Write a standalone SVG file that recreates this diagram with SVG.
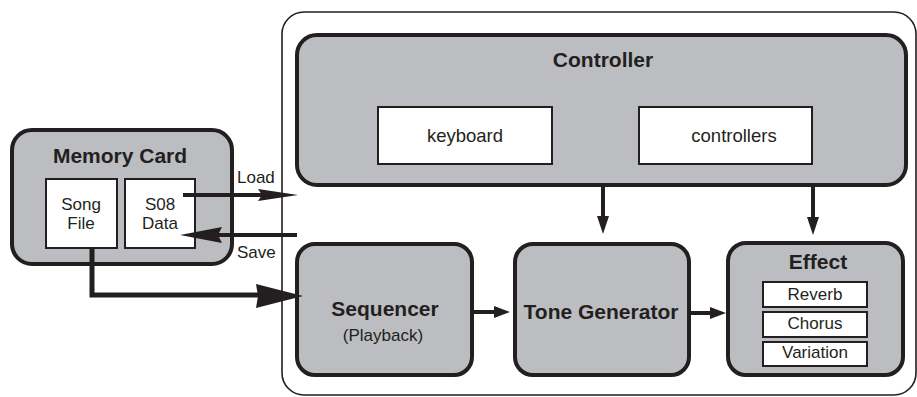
<svg xmlns="http://www.w3.org/2000/svg" width="917" height="397" viewBox="0 0 917 397">
  <style>
    text { font-family: "Liberation Sans", Arial, sans-serif; fill: #231f20; text-anchor: middle; }
    .title { font-size: 21px; font-weight: bold; }
    .label { font-size: 17px; }
    .big { font-size: 18.5px; }
    .block { fill: #bcbdc0; stroke: #231f20; stroke-width: 4; }
    .inner { fill: #ffffff; stroke: #231f20; stroke-width: 2; }
    .wire { fill: none; stroke: #231f20; stroke-width: 4; }
    .head { fill: #231f20; stroke: none; }
  </style>

  <!-- instrument enclosure -->
  <rect x="282" y="12" width="634" height="383" rx="22" fill="#ffffff" stroke="#231f20" stroke-width="1.6"/>

  <g id="memory-card">
    <rect class="block" x="12" y="130" width="220" height="134" rx="20"/>
    <text class="title" x="120" y="163">Memory Card</text>
    <rect class="inner" x="46" y="179" width="71" height="69"/>
    <text class="label" x="81" y="210">Song</text>
    <text class="label" x="81" y="229">File</text>
    <rect class="inner" x="125" y="179" width="70" height="69"/>
    <text class="label" x="160" y="210">S08</text>
    <text class="label" x="160" y="229">Data</text>
  </g>

  <g id="controller">
    <rect class="block" x="297" y="35" width="609" height="150" rx="20"/>
    <text class="title" x="603" y="67">Controller</text>
    <rect class="inner" x="378" y="107" width="174" height="57"/>
    <text class="big" x="465" y="142">keyboard</text>
    <rect class="inner" x="639" y="107" width="173" height="57"/>
    <text class="big" x="734" y="142">controllers</text>
  </g>

  <g id="sequencer">
    <rect class="block" x="297" y="244" width="175" height="131" rx="18"/>
    <text class="title" x="385" y="316">Sequencer</text>
    <text class="label" x="383" y="341">(Playback)</text>
  </g>

  <g id="tone-generator">
    <rect class="block" x="515" y="244" width="174" height="131" rx="18"/>
    <text class="title" x="601" y="319">Tone Generator</text>
  </g>

  <g id="effect">
    <rect class="block" x="728" y="243" width="175" height="132" rx="18"/>
    <text class="title" x="818" y="269">Effect</text>
    <rect class="inner" x="763" y="282" width="104" height="25"/>
    <text class="label" x="815" y="300">Reverb</text>
    <rect class="inner" x="763" y="312" width="104" height="25"/>
    <text class="label" x="815" y="329">Chorus</text>
    <rect class="inner" x="763" y="342" width="104" height="24"/>
    <text class="label" x="815" y="358">Variation</text>
  </g>

  <g id="connectors">
    <!-- Load -->
    <line class="wire" x1="183" y1="195" x2="262" y2="195"/>
    <polygon class="head" points="298,195 258,189 262,195 258,201"/>
    <text class="label" x="237" y="183" style="text-anchor:start">Load</text>
    <!-- Save -->
    <line class="wire" x1="297" y1="235" x2="215" y2="235"/>
    <polygon class="head" points="180,235 222,227 218,235 222,243"/>
    <text class="label" x="237" y="258" style="text-anchor:start">Save</text>
    <!-- Song File to Sequencer -->
    <polyline class="wire" points="92,248 92,295 262,295" style="stroke-width:5"/>
    <polygon class="head" points="303,296 256,284 258,296 256,308"/>
    <!-- Controller to Tone Generator / Effect -->
    <line class="wire" x1="603" y1="185" x2="603" y2="218"/>
    <polygon class="head" points="603,234 597,216 609,216"/>
    <line class="wire" x1="813" y1="185" x2="813" y2="219"/>
    <polygon class="head" points="813,235 807,217 819,217"/>
    <!-- Sequencer to Tone Generator -->
    <line class="wire" x1="472" y1="312" x2="496" y2="312"/>
    <polygon class="head" points="510,312 494,306 494,318"/>
    <!-- Tone Generator to Effect -->
    <line class="wire" x1="689" y1="313" x2="712" y2="313"/>
    <polygon class="head" points="726,313 710,307 710,319"/>
  </g>
</svg>
